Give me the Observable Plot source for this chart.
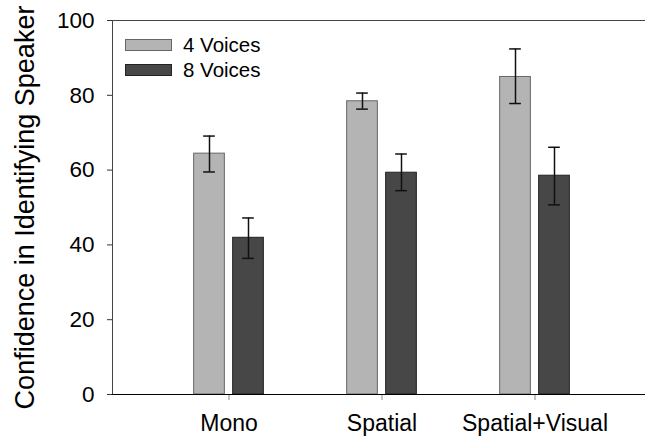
<!DOCTYPE html>
<html>
<head>
<meta charset="utf-8">
<script src="https://cdn.jsdelivr.net/npm/d3@7"></script>
<script src="https://cdn.jsdelivr.net/npm/@observablehq/plot@0.6"></script>
<style>
  html, body { margin: 0; padding: 0; background: white; }
  #wrap { position: relative; width: 645px; height: 437px; font-family: "Liberation Sans", Arial, sans-serif; }
  .legend { position: absolute; left: 125px; top: 32px; font-size: 20.5px; color: #000; }
  .legend .row { display: flex; align-items: center; height: 25px; }
  .legend .sw { width: 45px; height: 10px; margin-right: 11px; box-sizing: content-box; }
</style>
</head>
<body>
<div id="wrap"></div>
<script>
// ---- data ----
const categories = ["Mono", "Spatial", "Spatial+Visual"];
const series = ["4 Voices", "8 Voices"];
const means4 = [64.4, 78.4, 84.9];
const lo4 = [59.5, 76.3, 77.8];
const hi4 = [69.1, 80.6, 92.4];
const means8 = [41.9, 59.3, 58.5];
const lo8 = [36.4, 54.5, 50.7];
const hi8 = [47.2, 64.3, 66.1];
const yTicks = [0, 20, 40, 60, 80, 100];
const fills = ["#b4b4b4", "#474747"];
const strokes = ["#666", "#222"];

// ---- layout ----
const barW = 31, gap = 8;
const xRange = [151.35, 611.25];
const step = (xRange[1] - xRange[0]) / categories.length;
const half = step / 2;
const off = gap / 2 + barW / 2; // center offset of each bar from band center
const capHalf = 6;

const rows4 = categories.map((c, i) => ({cat: c, series: series[0], mean: means4[i], lo: lo4[i], hi: hi4[i]}));
const rows8 = categories.map((c, i) => ({cat: c, series: series[1], mean: means8[i], lo: lo8[i], hi: hi8[i]}));

function errMarks(rows, dx) {
  return [
    Plot.ruleX(rows, {x: "cat", y1: "lo", y2: "hi", dx, stroke: "#111", strokeWidth: 1.5}),
    Plot.tickY(rows, {x: "cat", y: "hi", dx, stroke: "#111", strokeWidth: 1.5, insetLeft: half - capHalf, insetRight: half - capHalf}),
    Plot.tickY(rows, {x: "cat", y: "lo", dx, stroke: "#111", strokeWidth: 1.5, insetLeft: half - capHalf, insetRight: half - capHalf})
  ];
}

const chart = Plot.plot({
  width: 645,
  height: 437,
  marginLeft: 112,
  marginRight: -2,
  marginTop: 20,
  marginBottom: 43,
  style: {fontFamily: "'Liberation Sans', Arial, sans-serif", fontSize: "22px", color: "black", background: "white"},
  x: {domain: categories, range: xRange, padding: 0, label: null},
  y: {domain: [0, 100], label: null},
  marks: [
    Plot.frame({stroke: "#444"}),
    Plot.barY(rows4, {x: "cat", y: "mean", fill: fills[0], stroke: strokes[0], strokeWidth: 1,
      insetLeft: half - gap / 2 - barW, insetRight: half + gap / 2}),
    Plot.barY(rows8, {x: "cat", y: "mean", fill: fills[1], stroke: strokes[1], strokeWidth: 1,
      insetLeft: half + gap / 2, insetRight: half - gap / 2 - barW}),
    ...errMarks(rows4, -off),
    ...errMarks(rows8, off),
    Plot.axisX({tickSize: 6, tickPadding: 14, stroke: "#888", fill: "black", fontSize: 23, label: null}),
    Plot.axisY({ticks: yTicks, tickSize: 5, tickPadding: 13, stroke: "#333", fill: "black", fontSize: 22.5, label: null}),
    Plot.ruleY([0], {stroke: "black", strokeWidth: 1.2}),
    Plot.text(["Confidence in Identifying Speaker"], {text: d => d, frameAnchor: "left", rotate: -90, dx: -79,
      lineAnchor: "bottom", textAnchor: "middle", fontSize: 27, fill: "black"})
  ]
});

const wrap = document.getElementById("wrap");
wrap.appendChild(chart);

// legend
const legend = document.createElement("div");
legend.className = "legend";
series.forEach((s, i) => {
  const row = document.createElement("div");
  row.className = "row";
  const sw = document.createElement("span");
  sw.className = "sw";
  sw.style.background = fills[i];
  sw.style.border = "1px solid " + strokes[i];
  const t = document.createElement("span");
  t.textContent = s;
  row.appendChild(sw);
  row.appendChild(t);
  legend.appendChild(row);
});
wrap.appendChild(legend);
</script>
</body>
</html>
